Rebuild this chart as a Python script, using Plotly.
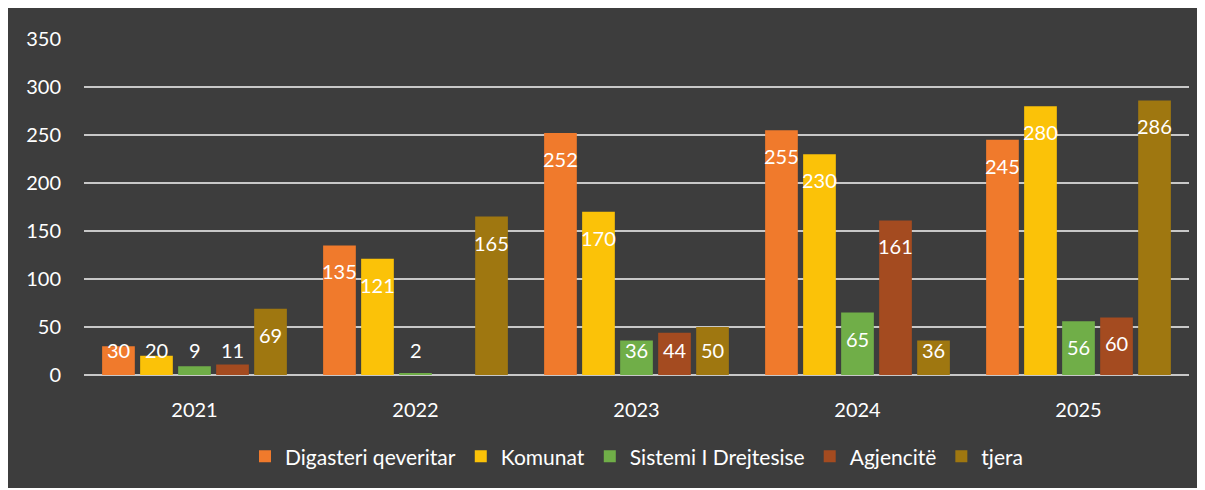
import plotly.graph_objects as go

years = ["2021", "2022", "2023", "2024", "2025"]
series_names = ["Digasteri qeveritar", "Komunat", "Sistemi I Drejtesise", "Agjencitë", "tjera"]
digasteri = [30, 135, 252, 255, 245]
komunat = [20, 121, 170, 230, 280]
sistemi = [9, 2, 36, 65, 56]
agjencite = [11, None, 44, 161, 60]
tjera = [69, 165, 50, 36, 286]
y_ticks = [0, 50, 100, 150, 200, 250, 300, 350]

colors = ["#f07a2c", "#fbc208", "#70ae48", "#a44b20", "#9f7710"]
values = [digasteri, komunat, sistemi, agjencite, tjera]

FONT = "Lato, 'Open Sans', sans-serif"

W, H = 1192, 480
ML, MR, MT, MB = 76, 11, 31, 113
BARGAP = 0.14
BARGROUPGAP = 0.14
YMAX = 350

plot_w = W - ML - MR
plot_h = H - MT - MB
cat_w = plot_w / len(years)
slot = cat_w * (1 - BARGAP) / len(series_names)
px_per_unit = plot_h / YMAX

fig = go.Figure()
annotations = []
for i, (name, vals, c) in enumerate(zip(series_names, values, colors)):
    fig.add_trace(go.Bar(
        x=years, y=vals, name=name,
        marker=dict(color=c, line=dict(width=0)),
    ))
    xshift = (i - (len(series_names) - 1) / 2) * slot
    for j, v in enumerate(vals):
        if v is None:
            continue
        # label like Excel "inside end", kept above the axis for short bars
        center_px = max(v * px_per_unit - 26, 25)
        annotations.append(dict(
            x=j, y=v, xref="x", yref="y", text=str(v), showarrow=False,
            xshift=xshift, yshift=center_px - v * px_per_unit,
            yanchor="middle", xanchor="center",
            font=dict(color="white", size=20, family=FONT),
        ))

fig.update_layout(
    width=W, height=H,
    margin=dict(l=ML, r=MR, t=MT, b=MB),
    paper_bgcolor="#3d3d3d",
    plot_bgcolor="#3d3d3d",
    barmode="group",
    bargap=BARGAP,
    bargroupgap=BARGROUPGAP,
    font=dict(family=FONT, color="white", size=20),
    showlegend=True,
    annotations=annotations,
    legend=dict(orientation="h", x=0.5, xanchor="center", y=-0.182, yanchor="top",
                font=dict(size=21, color="white", family=FONT),
                itemwidth=30, bgcolor="rgba(0,0,0,0)"),
    xaxis=dict(type="category", categoryorder="array", categoryarray=years,
               autorange=False, range=[-0.5, len(years) - 0.5],
               showgrid=False, showline=False, zeroline=False,
               tickfont=dict(size=20, color="white", family=FONT),
               ticks="outside", ticklen=17, tickcolor="rgba(0,0,0,0)"),
    yaxis=dict(autorange=False, range=[0, YMAX], tickvals=y_ticks, showgrid=True,
               gridcolor="#c8c8c8", gridwidth=2, zeroline=True,
               zerolinecolor="#c8c8c8", zerolinewidth=2, showline=False,
               tickfont=dict(size=20, color="white", family=FONT),
               ticks="outside", ticklen=18, tickcolor="rgba(0,0,0,0)"),
)

fig.write_html("out.html")
